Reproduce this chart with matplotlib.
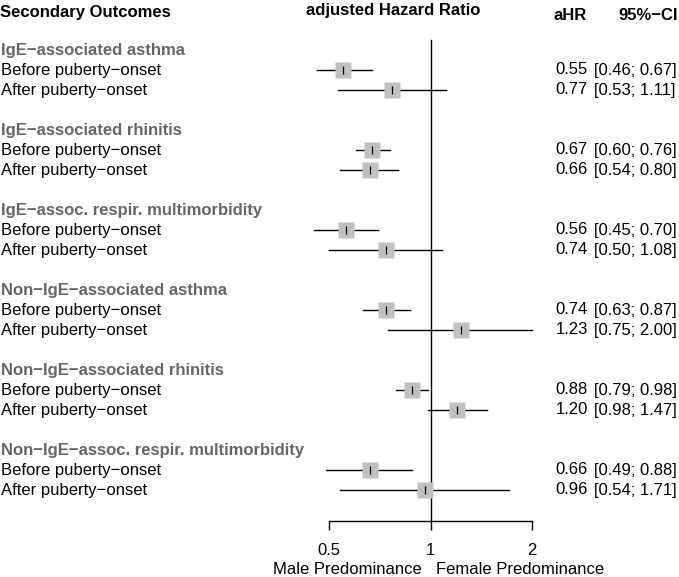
import matplotlib
matplotlib.use("Agg")
import matplotlib.pyplot as plt
import matplotlib.transforms as mtrans

plt.rcParams["font.family"] = ["Liberation Sans", "DejaVu Sans"]
plt.rcParams["font.size"] = 12

grupos = ["IgE\u2212associated asthma", "IgE\u2212associated rhinitis",
          "IgE\u2212assoc. respir. multimorbidity", "Non\u2212IgE\u2212associated asthma",
          "Non\u2212IgE\u2212associated rhinitis", "Non\u2212IgE\u2212assoc. respir. multimorbidity"]
periodos = ["Before puberty\u2212onset", "After puberty\u2212onset"]

# aHR e IC95% (antes, despues) por grupo
ahr = [[0.55, 0.77], [0.67, 0.66], [0.56, 0.74], [0.74, 1.23], [0.88, 1.20], [0.66, 0.96]]
ic_inf = [[0.46, 0.53], [0.60, 0.54], [0.45, 0.50], [0.63, 0.75], [0.79, 0.98], [0.49, 0.54]]
ic_sup = [[0.67, 1.11], [0.76, 0.80], [0.70, 1.08], [0.87, 2.00], [0.98, 1.47], [0.88, 1.71]]

ticks = [0.5, 1, 2]
tick_labels = ["0.5", "1", "2"]

W, H = 679, 577
fig = plt.figure(figsize=(W / 100, H / 100), dpi=100)

# eje del forest: x en escala log, y en filas (fila r -> pixel 50 + 20 r)
x0, x1 = 329, 532
ax = fig.add_axes([x0 / W, 0, (x1 - x0) / W, 1])
ax.set_xscale("log")
ax.set_xlim(0.5, 2)
ax.set_ylim((H - 50) / 20, -50 / 20)
for s in ["top", "right", "left"]:
    ax.spines[s].set_visible(False)
ax.set_yticks([])
eje_y = (521 - 50) / 20
ax.spines["bottom"].set_position(("data", eje_y))
ax.spines["bottom"].set_linewidth(1.0)
ax.set_xticks(ticks)
ax.set_xticklabels(tick_labels)
ax.minorticks_off()
ax.tick_params(axis="x", direction="out", length=6.5, width=1.0, pad=9.5, labelsize=12)

ax.plot([1, 1], [-0.5, eje_y], color="black", lw=1.0)

tr = mtrans.blended_transform_factory(fig.transFigure, ax.transData)
gris = "#666666"

fila = 0
for g in range(len(grupos)):
    ax.text(1 / W, fila, grupos[g], transform=tr, fontweight="bold", color=gris,
            va="center", ha="left")
    for p in range(2):
        r = fila + 1 + p
        ax.text(1 / W, r, periodos[p], transform=tr, va="center", ha="left")
        ax.plot([ic_inf[g][p], ic_sup[g][p]], [r, r], color="black", lw=1.0, clip_on=False)
        ax.plot(ahr[g][p], r, marker="s", ms=11, color="#c0c0c0", mec="none", clip_on=False)
        ax.plot(ahr[g][p], r, marker="|", ms=6, mew=0.9, color="black", clip_on=False)
        ax.text(588 / W, r, f"{ahr[g][p]:.2f}", transform=tr, va="center", ha="right")
        ax.text(594 / W, r, f"[{ic_inf[g][p]:.2f}; {ic_sup[g][p]:.2f}]", transform=tr,
                va="center", ha="left")
    fila += 4

# cabeceras
ax.text(0, -1.9, "Secondary Outcomes", transform=tr, fontweight="bold", va="center", ha="left")
ax.text(393 / W, -1.95, "adjusted Hazard Ratio", transform=tr, fontweight="bold",
        va="center", ha="center")
ax.text(587 / W, -1.75, "aHR", transform=tr, fontweight="bold", va="center", ha="right")
ax.text(678 / W, -1.75, "95%\u2212CI", transform=tr, fontweight="bold", va="center", ha="right")

y_lab = (569 - 50) / 20
ax.text(422 / W, y_lab, "Male Predominance", transform=tr, va="center", ha="right")
ax.text(436 / W, y_lab, "Female Predominance", transform=tr, va="center", ha="left")

fig.savefig("out.png", dpi=100)
